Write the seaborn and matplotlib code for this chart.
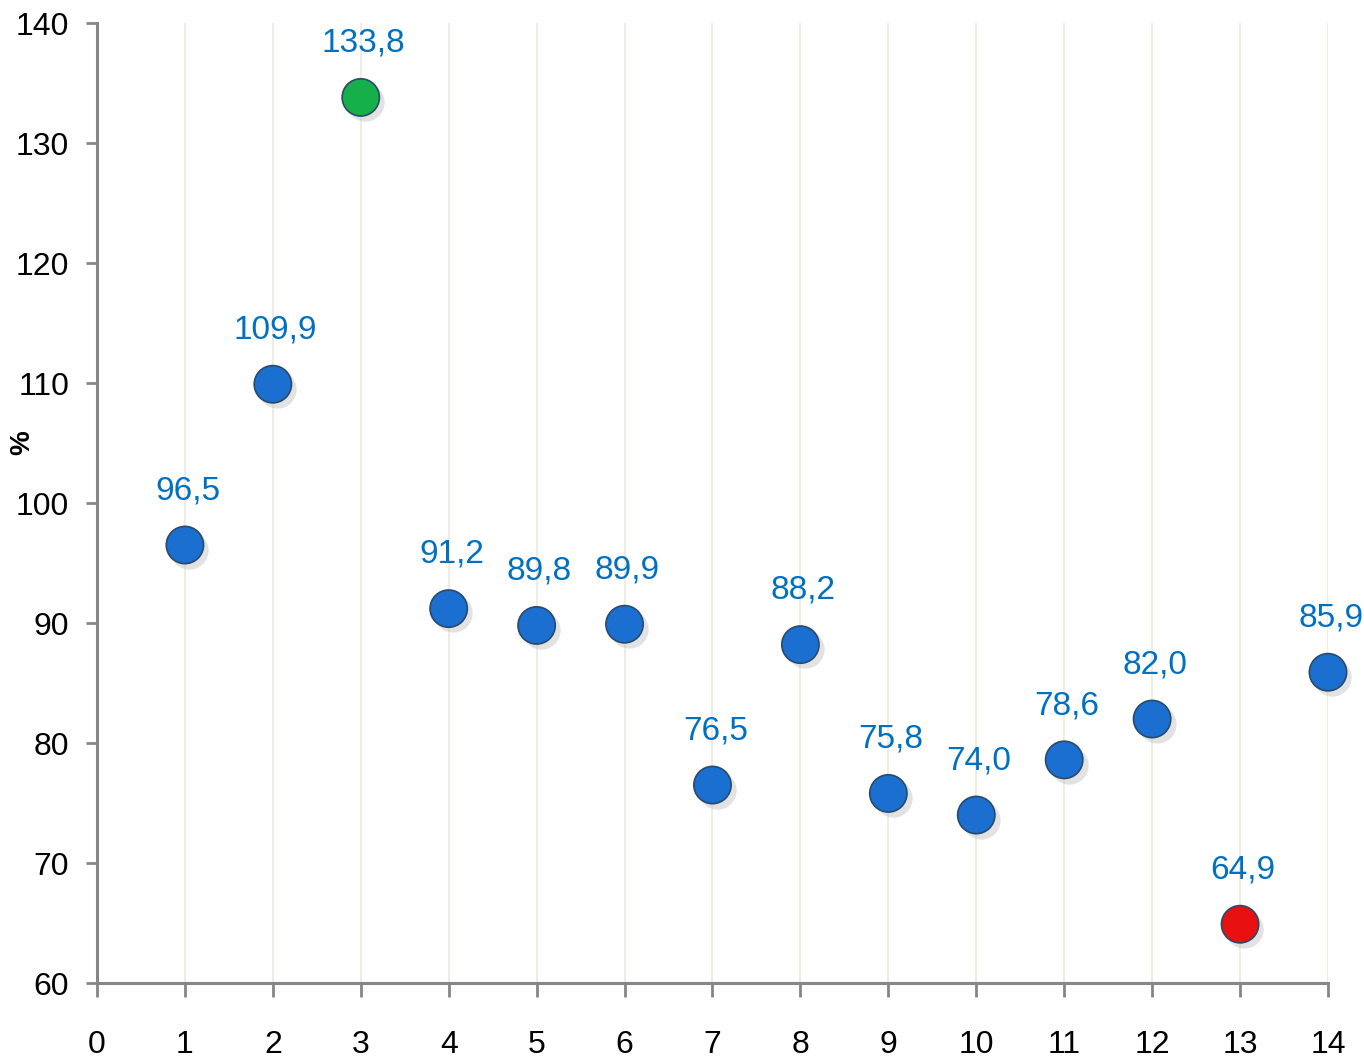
import numpy as np
import pandas as pd
import matplotlib
matplotlib.use("Agg")
import matplotlib.pyplot as plt
import seaborn as sns

# data
positions = [1, 2, 3, 4, 5, 6, 7, 8, 9, 10, 11, 12, 13, 14]
values = [96.5, 109.9, 133.8, 91.2, 89.8, 89.9, 76.5, 88.2, 75.8, 74.0, 78.6, 82.0, 64.9, 85.9]
labels = ["96,5", "109,9", "133,8", "91,2", "89,8", "89,9", "76,5", "88,2",
          "75,8", "74,0", "78,6", "82,0", "64,9", "85,9"]
kinds = ["mid", "mid", "max", "mid", "mid", "mid", "mid", "mid",
         "mid", "mid", "mid", "mid", "min", "mid"]

df = pd.DataFrame({"x": positions, "y": values, "kind": kinds, "label": labels})

sns.set_style("white")
plt.rcParams["font.family"] = ["Liberation Sans Narrow", "Liberation Sans", "DejaVu Sans"]

fig = plt.figure(figsize=(13.64, 10.6), dpi=100)
ax = fig.add_axes([0.0711, 0.0726, 0.9025, 0.9057])

palette = {"mid": "#1a6fd0", "max": "#15b04a", "min": "#e81010"}

# soft shadow behind each marker
ax.scatter(df["x"] + 0.05, df["y"] - 0.4, s=760, color="#b8b8b8", alpha=0.4,
           linewidths=0, zorder=2, clip_on=False)
sns.scatterplot(data=df, x="x", y="y", hue="kind", palette=palette, s=720,
                edgecolor="#2a4a6a", linewidth=1.2, legend=False, ax=ax, zorder=3,
                clip_on=False)

for _, r in df.iterrows():
    ax.annotate(r["label"], (r["x"], r["y"]), xytext=(2, 39), textcoords="offset points",
                ha="center", va="center", fontsize=24, color="#0070C0")

ax.set_xlim(0, 14)
ax.set_ylim(60, 140)
ax.set_xticks(range(0, 15))
ax.set_yticks(range(60, 141, 10))
ax.grid(axis="x", color="#eeede3", linewidth=1.5)
ax.set_axisbelow(True)

for s in ["top", "right"]:
    ax.spines[s].set_visible(False)
for s in ["left", "bottom"]:
    ax.spines[s].set_color("#868686")
    ax.spines[s].set_linewidth(2.2)

ax.tick_params(axis="x", bottom=True, direction="out", length=10, width=2, color="#868686",
               labelsize=23, pad=24, labelcolor="black")
ax.tick_params(axis="y", left=True, direction="out", length=8, width=2, color="#868686",
               labelsize=23, pad=12, labelcolor="black")
ax.set_xlabel("")
ax.set_ylabel("%", fontsize=20, fontweight="bold", color="black", va="center")
ax.yaxis.set_label_coords(-0.061, 0.5625)

fig.savefig("out.png", dpi=100)
